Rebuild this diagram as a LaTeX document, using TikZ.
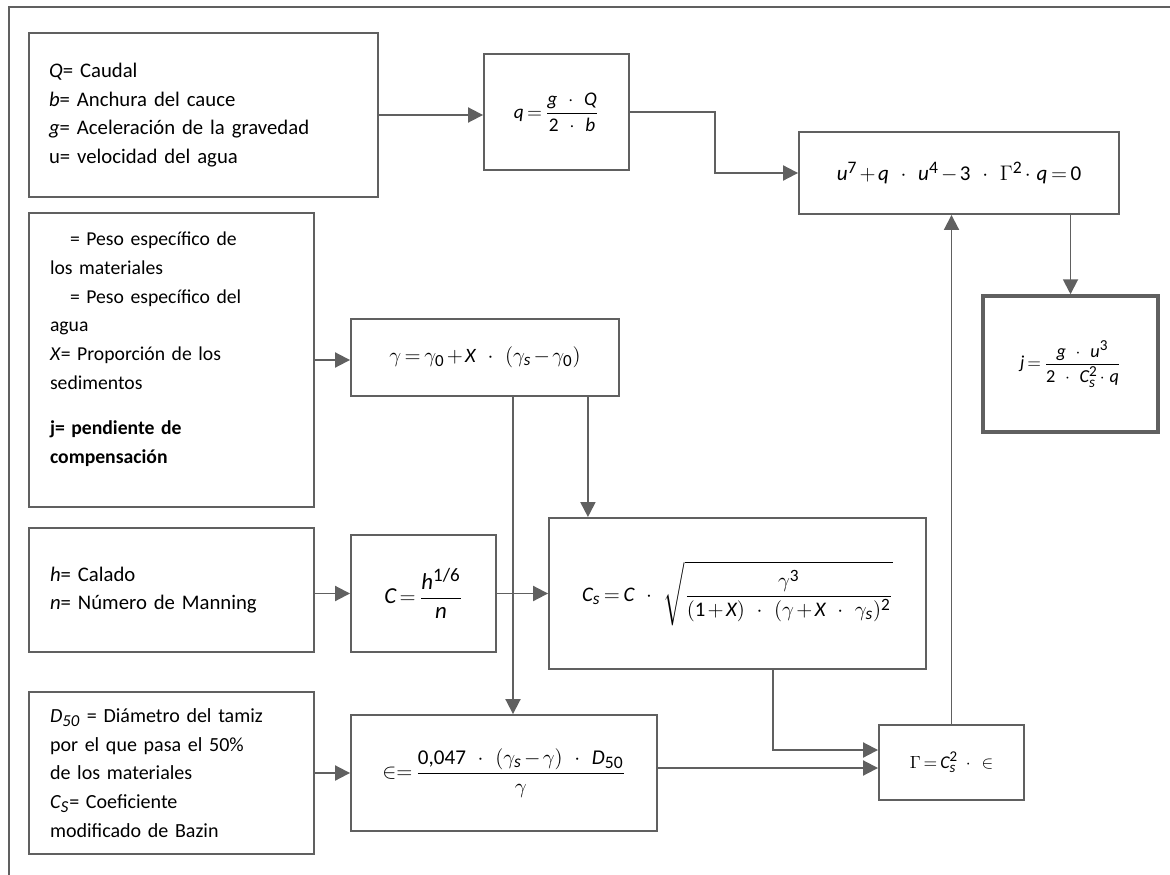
\documentclass[tikz,border=0pt]{standalone}
\usepackage{amsmath}
\usepackage{fontspec}
\setmainfont{Carlito}
\usepackage[italic]{mathastext}
\usetikzlibrary{arrows.meta,calc}
\definecolor{linea}{RGB}{96,96,96}
\newcommand{\por}{\mskip8mu\cdot\mskip8mu}
\newcommand{\menos}{\mathchar"2200\relax}
\newcommand{\apretar}{\thickmuskip=3mu\relax\medmuskip=2mu\relax}
% cifras del texto en las ecuaciones
\DeclareSymbolFont{cifras}{TU}{\rmdefault}{m}{n}
\makeatletter
\AtBeginDocument{%
  \@tempcnta=`0
  \loop
    \Umathcode\@tempcnta=0 \symcifras \@tempcnta
    \advance\@tempcnta by 1
  \ifnum\@tempcnta<58 \repeat}
\makeatother

\begin{document}
\begin{tikzpicture}[x=0.02cm, y=-0.02cm,
    line width=1.1pt, draw=linea,
    >={Triangle[length=0.3cm,width=0.3cm]},
    flecha/.style={->, draw=linea, line width=1.1pt},
    datos/.style={draw=linea, line width=1.1pt, align=left, inner ysep=0pt,
        font=\fontsize{#1}{16.4pt}\selectfont},
    formula/.style={draw=linea, line width=1.1pt, inner sep=0pt,
        font=\fontsize{#1}{#1}\selectfont\apretar}]

    \useasboundingbox (0,0) rectangle (1170,875);

    % Marco
    \draw[line width=1.4pt] (1170,7) -- (9,7) -- (9,875);

    % Datos de partida
    \node[datos=11.8pt, text width=6.18cm, inner xsep=0.4cm, minimum height=3.28cm] (datosQ) at (203.5,115)
        {\textit{Q}= Caudal\\
         \textit{b}= Anchura del cauce\\
         \textit{g}= Aceleración de la gravedad\\
         u= velocidad del agua};
    \node[datos=11.2pt, text width=4.86cm, inner xsep=0.42cm, minimum height=5.88cm] (datosG) at (171.5,360)
        {\hspace*{0.4cm}= Peso específico de\\
         los materiales\\
         \hspace*{0.4cm}= Peso específico del\\
         agua\\
         \textit{X}= Proporción de los\\
         sedimentos\\[0.32cm]
         \textbf{j= pendiente de}\\
         \textbf{compensación}\rule[-0.5cm]{0pt}{0.5cm}};
    \node[datos=11.8pt, text width=4.86cm, inner xsep=0.42cm, minimum height=2.48cm] (datosH) at (171.5,590)
        {\textit{h}= Calado\\
         \textit{n}= Número de Manning};
    \node[datos=11.4pt, text width=4.86cm, inner xsep=0.42cm, minimum height=3.24cm] (datosD) at (171.5,773)
        {\textit{D}\textsubscript{\textit{50}} = Diámetro del tamiz\\
         por el que pasa el 50\%\\
         de los materiales\\
         \textit{C}\textsubscript{\textit{S}}= Coeficiente\\
         modificado de Bazin};

    % Ecuaciones
    \node[formula=11pt, minimum width=2.9cm, minimum height=2.32cm] (qU) at (556.5,112)
        {$\displaystyle q=\frac{g\por Q}{2\por b}$};
    \node[formula=12pt, minimum width=6.4cm, minimum height=1.64cm] (ecU) at (959,173)
        {\raisebox{-0.2cm}{$u^7+q\por u^4\menos 3\por \Gamma^2\cdot\; q=0$}};
    \node[formula=10.4pt, line width=2pt, minimum width=3.5cm, minimum height=2.72cm] (pend) at (1070.5,364)
        {$\displaystyle j=\frac{g\por u^3}{2\por C_s^2\cdot\; q}$};
    \node[formula=11.6pt, minimum width=5.36cm, minimum height=1.54cm] (gam) at (485,357.5)
        {$\gamma=\gamma_0+X\por(\gamma_s\menos\gamma_0)$};
    \node[formula=13pt, minimum width=2.9cm, minimum height=2.34cm] (chezy) at (423.5,593.5)
        {$\displaystyle C=\frac{h^{1/6}}{n}$};
    \node[formula=11.8pt, minimum width=7.54cm, minimum height=3.02cm] (cs) at (737.5,593.5)
        {$\displaystyle C_s=C\por\sqrt{\frac{\gamma^3}{(1+X)\por(\gamma+X\por\gamma_s)^2}}$};
    \node[formula=12pt, minimum width=6.12cm, minimum height=2.32cm] (eps) at (504,773)
        {$\displaystyle \in=\frac{0{,}047\por(\gamma_s\menos\gamma)\por D_{50}}{\gamma}$};
    \node[formula=10.2pt, minimum width=2.9cm, minimum height=1.5cm] (Gam) at (951.5,762.5)
        {$\Gamma=C_s^2\por\in$};

    % Puntos de salida
    \coordinate (g1) at ([xshift=0.56cm]gam.south);
    \coordinate (g2) at ([xshift=-0.64cm]gam.south east);
    \coordinate (c1) at ([xshift=0.71cm]cs.south);
    \coordinate (c2) at ([yshift=0.25cm]Gam.west);
    \coordinate (e1) at ([yshift=0.1cm]eps.east);

    % Conexiones
    \draw[flecha] (datosQ.east) -- (datosQ.east -| qU.west);
    \draw[flecha] (qU.east) -- ++(85,0) |- (ecU.west);
    \draw[flecha] (pend.north |- ecU.south) -- (pend.north);
    \draw[flecha] (datosG) -- (datosG -| gam.west);
    \draw[flecha] (g2) -- (g2 |- cs.north);
    \draw[flecha] (g1) -- (g1 |- eps.north);
    \draw[flecha] (chezy.west -| datosH.east) -- (chezy.west);
    \draw[flecha] (chezy) -- (cs);
    \draw[flecha] (datosD) -- (eps);
    \draw[flecha] (e1) -- (e1 -| Gam.west);
    \draw[flecha] (c1) |- (c2);
    \draw[flecha] (Gam.north) -- (Gam.north |- ecU.south);

\end{tikzpicture}
\end{document}
